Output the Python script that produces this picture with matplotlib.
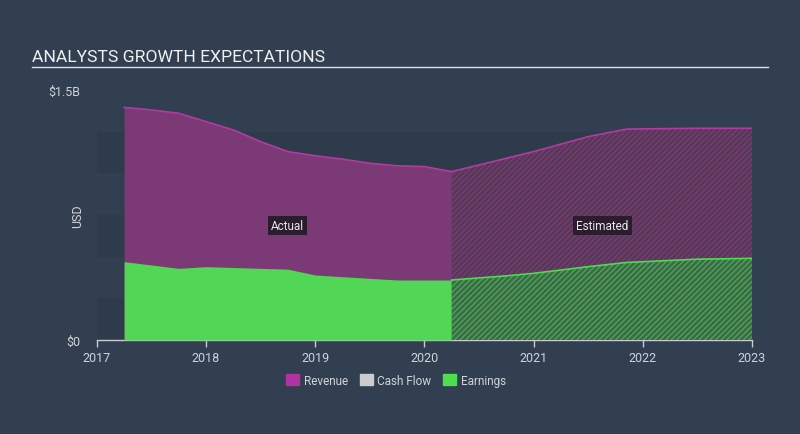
import numpy as np
import matplotlib
matplotlib.use("Agg")
import matplotlib.pyplot as plt
from matplotlib.patches import Patch

plt.rcParams['font.family'] = ['Roboto', 'DejaVu Sans']
plt.rcParams['hatch.linewidth'] = 0.8

# actual values (billions USD), quarterly
act_t = [2017.25, 2017.5, 2017.75, 2018.0, 2018.25, 2018.5, 2018.75,
         2019.0, 2019.25, 2019.5, 2019.75, 2020.0, 2020.25]
act_rev = [1.395, 1.38, 1.36, 1.31, 1.26, 1.19, 1.13,
           1.105, 1.085, 1.06, 1.045, 1.04, 1.01]
act_earn = [0.47, 0.45, 0.43, 0.44, 0.435, 0.43, 0.425,
            0.39, 0.38, 0.37, 0.36, 0.36, 0.36]

# analyst estimates
est_t = [2020.25, 2020.75, 2021.0, 2021.5, 2021.85, 2022.5, 2023.0]
est_rev = [1.01, 1.09, 1.13, 1.22, 1.265, 1.27, 1.27]
est_earn = [0.36, 0.385, 0.40, 0.44, 0.465, 0.485, 0.49]

years = [2017, 2018, 2019, 2020, 2021, 2022, 2023]

bg = '#313f50'
rev_c = '#7b3a75'
rev_edge = '#b13ba3'
earn_c = '#52d655'
txt = '#d0d4d8'

fig = plt.figure(figsize=(8, 4.35), dpi=100)
fig.patch.set_facecolor(bg)
ax = fig.add_axes([0.121, 0.216, 0.819, 0.575])
ax.set_facecolor(bg)

# subtle horizontal bands
for lo in [0.0, 0.5, 1.0]:
    ax.axhspan(lo, lo + 0.25, color='#2d3b4a', zorder=0, lw=0)

# actual areas
ax.fill_between(act_t, act_rev, color=rev_c, lw=0, zorder=2)
ax.plot(act_t, act_rev, color=rev_edge, lw=1.2, zorder=3)
ax.fill_between(act_t, act_earn, color=earn_c, lw=0, zorder=4)

# estimated areas (hatched)
ax.fill_between(est_t, est_rev, facecolor='#583757', edgecolor='#7a3f78',
                hatch='//////', lw=0, zorder=2)
ax.plot(est_t, est_rev, color=rev_edge, lw=1.2, zorder=3)
ax.fill_between(est_t, est_earn, facecolor='#3c6b48', edgecolor='#4fb057',
                hatch='//////', lw=0, zorder=4)
ax.plot(est_t, est_earn, color=earn_c, lw=1.2, zorder=5)

ax.set_xlim(2017, 2023)
ax.set_ylim(0, 1.5)

for s in ['top', 'right', 'left']:
    ax.spines[s].set_visible(False)
ax.spines['bottom'].set_color('#c8ccd0')
ax.spines['bottom'].set_linewidth(1)

ax.set_xticks(years)
ax.set_xticklabels([str(y) for y in years], color=txt, fontsize=9)
ax.tick_params(axis='x', colors='#c8ccd0', length=5, width=1, pad=3, labelcolor=txt)
ax.set_yticks([0, 1.5])
ax.set_yticklabels(['$0', '$1.5B'], color=txt, fontsize=9)
ax.tick_params(axis='y', length=0, pad=12, labelcolor=txt)
ax.set_ylabel('USD', color=txt, fontsize=9)
ax.yaxis.set_label_coords(-0.02, 0.5)

box = dict(boxstyle='square,pad=0.25', facecolor='#2b1d2e', edgecolor='none')
ax.text(2018.75, 0.685, 'Actual', color='#e8e8e8', fontsize=8.5,
        ha='center', va='center', bbox=box, zorder=6)
ax.text(2021.63, 0.685, 'Estimated', color='#e8e8e8', fontsize=8.5,
        ha='center', va='center', bbox=box, zorder=6)

fig.text(0.04, 0.85, 'ANALYSTS GROWTH EXPECTATIONS', color='#f0f0f0',
         fontsize=12.6, va='bottom')
fig.add_artist(plt.Line2D([0.04, 0.96], [0.843, 0.843], color='#e0e0e0', lw=1))

handles = [Patch(color='#b0339f', label='Revenue'),
           Patch(color='#cccccc', label='Cash Flow'),
           Patch(color='#4ddf4d', label='Earnings')]
leg = fig.legend(handles=handles, loc='center', bbox_to_anchor=(0.495, 0.124),
                 ncol=3, frameon=False, fontsize=8.5, handlelength=1.1,
                 handleheight=1.1, columnspacing=1.0, handletextpad=0.4)
for t in leg.get_texts():
    t.set_color(txt)

fig.savefig('out.png', dpi=100, facecolor=bg)
